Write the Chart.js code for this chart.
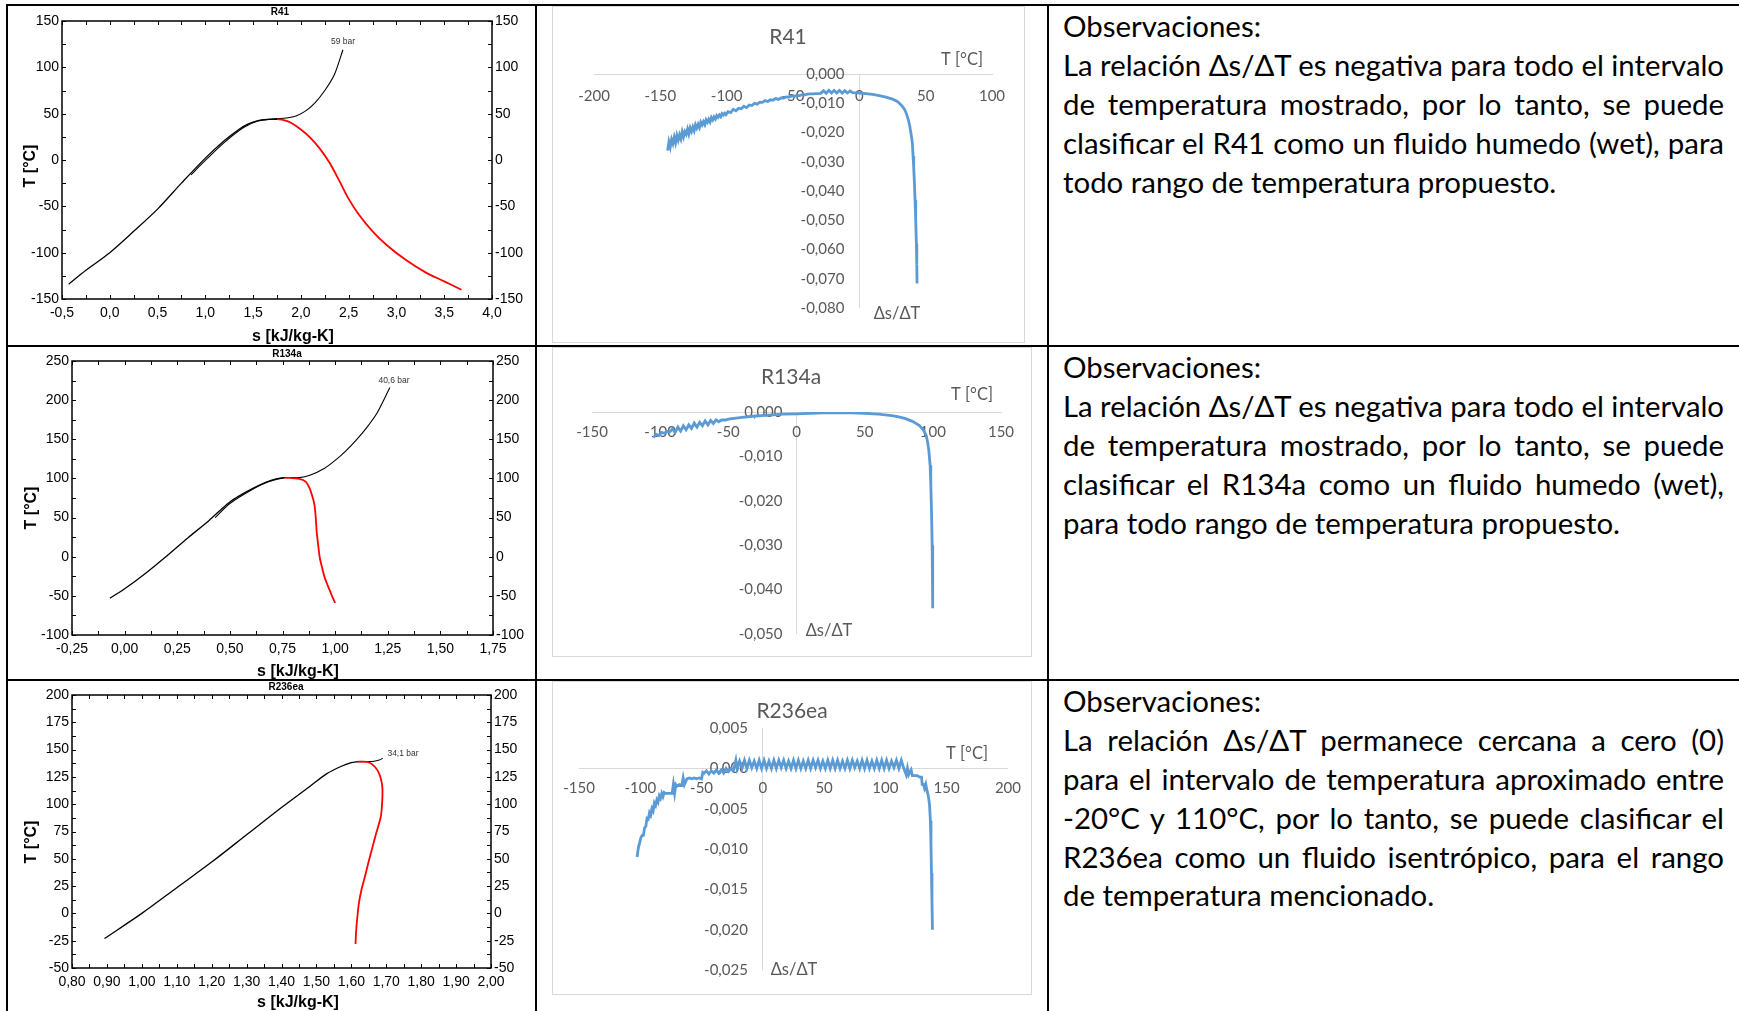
<!DOCTYPE html>
<html>
<head>
<meta charset="utf-8">
<script src="https://cdn.jsdelivr.net/npm/chart.js@4.4.1/dist/chart.umd.min.js"></script>
<style>
  html, body { margin: 0; padding: 0; background: #fff; }
  body { width: 1739px; height: 1011px; position: relative; overflow: hidden; }
  .rule { position: absolute; background: #000; }
  .cv { position: absolute; }
  .xlbox { position: absolute; border: 1px solid #d9d9d9; box-sizing: border-box; pointer-events: none; }
  .obs { position: absolute; left: 1063px; width: 661px; font-family: Lato, Carlito, Calibri, sans-serif; font-size: 28.5px; color: #000; }
  .ln { height: 38.9px; line-height: 38.9px; white-space: nowrap; }
  .ln span { display: inline-block; transform-origin: 0 50%; }
</style>
</head>
<body>

<!-- table lines -->
<div class="rule" style="left:6px;top:4px;width:1733px;height:2px"></div>
<div class="rule" style="left:6px;top:345px;width:1733px;height:2px"></div>
<div class="rule" style="left:6px;top:679px;width:1733px;height:2px"></div>
<div class="rule" style="left:6px;top:4px;width:2px;height:1007px"></div>
<div class="rule" style="left:535px;top:4px;width:2px;height:1007px"></div>
<div class="rule" style="left:1047px;top:4px;width:2px;height:1007px"></div>

<!-- T-s diagrams -->
<canvas id="ts41" class="cv" width="527" height="339" style="left:8px;top:6px;width:527px;height:339px"></canvas>
<canvas id="ts134" class="cv" width="527" height="332" style="left:8px;top:347px;width:527px;height:332px"></canvas>
<canvas id="ts236" class="cv" width="527" height="330" style="left:8px;top:681px;width:527px;height:330px"></canvas>

<!-- ds/dT charts -->
<canvas id="xl41" class="cv" width="473" height="337" style="left:552px;top:6px;width:473px;height:337px"></canvas>
<div class="xlbox" style="left:552px;top:6px;width:473px;height:337px"></div>
<canvas id="xl134" class="cv" width="480" height="310" style="left:552px;top:347px;width:480px;height:310px"></canvas>
<div class="xlbox" style="left:552px;top:347px;width:480px;height:310px"></div>
<canvas id="xl236" class="cv" width="480" height="314" style="left:552px;top:681px;width:480px;height:314px"></canvas>
<div class="xlbox" style="left:552px;top:681px;width:480px;height:314px"></div>

<!-- observaciones -->
<div class="obs" style="top:7px">
  <div class="ln"><span>Observaciones:</span></div>
  <div class="ln j"><span>La relación Δs/ΔT es negativa para todo el intervalo</span></div>
  <div class="ln j"><span>de temperatura mostrado, por lo tanto, se puede</span></div>
  <div class="ln j"><span>clasificar el R41 como un fluido humedo (wet), para</span></div>
  <div class="ln"><span>todo rango de temperatura propuesto.</span></div>
</div>
<div class="obs" style="top:348px">
  <div class="ln"><span>Observaciones:</span></div>
  <div class="ln j"><span>La relación Δs/ΔT es negativa para todo el intervalo</span></div>
  <div class="ln j"><span>de temperatura mostrado, por lo tanto, se puede</span></div>
  <div class="ln j"><span>clasificar el R134a como un fluido humedo (wet),</span></div>
  <div class="ln"><span>para todo rango de temperatura propuesto.</span></div>
</div>
<div class="obs" style="top:682px">
  <div class="ln"><span>Observaciones:</span></div>
  <div class="ln j"><span>La relación Δs/ΔT permanece cercana a cero (0)</span></div>
  <div class="ln j"><span>para el intervalo de temperatura aproximado entre</span></div>
  <div class="ln j"><span>-20°C y 110°C, por lo tanto, se puede clasificar el</span></div>
  <div class="ln j"><span>R236ea como un fluido isentrópico, para el rango</span></div>
  <div class="ln"><span>de temperatura mencionado.</span></div>
</div>

<script>
// ---- T-s data (s in kJ/kg-K, T in °C) ----
const r41LiqS = [-0.43, -0.25, 0.0, 0.25, 0.5, 0.75, 1.0, 1.2, 1.35, 1.45, 1.55, 1.65, 1.75]
const r41LiqT = [-134, -119, -100, -77, -53, -25, 2, 21, 33, 39, 42.5, 43.8, 44]
const r41IsoS = [0.85, 1.0, 1.2, 1.4, 1.55, 1.7, 1.75, 1.85, 1.95, 2.05, 2.15, 2.25, 2.35, 2.44]
const r41IsoT = [-16, -0.5, 19, 35, 42, 44.3, 44.6, 45.3, 47.5, 53, 62, 75, 92, 119]
const r41VapS = [1.75, 1.82, 1.9, 2.0, 2.1, 2.2, 2.3, 2.4, 2.5, 2.6, 2.75, 2.9, 3.1, 3.3, 3.5, 3.68]
const r41VapT = [44, 43, 40, 33, 24, 12, -3, -22, -42, -58, -77, -92, -108, -121, -131, -140]

const r134LiqS = [-0.07, 0.0, 0.1, 0.2, 0.3, 0.4, 0.5, 0.6, 0.67, 0.72, 0.76]
const r134LiqT = [-53, -41, -21, 1, 24, 46, 70, 86, 95, 99.5, 101]
const r134IsoS = [0.43, 0.5, 0.6, 0.68, 0.76, 0.83, 0.88, 0.95, 1.0, 1.05, 1.1, 1.15, 1.2, 1.26]
const r134IsoT = [50, 68, 85, 95.5, 101, 101, 104, 113, 123, 135, 149, 165, 184, 216]
const r134VapS = [0.76, 0.83, 0.86, 0.878, 0.893, 0.902, 0.908, 0.912, 0.92, 0.927, 0.94, 0.951, 0.965, 0.976, 0.988, 1.0]
const r134VapT = [101, 99.5, 96, 88, 76, 66, 50, 33, 14, -1, -16, -27, -37, -44, -52, -59]

const r236LiqS = [0.893, 1.0, 1.1, 1.2, 1.3, 1.4, 1.48, 1.53, 1.57, 1.6, 1.62]
const r236LiqT = [-23, 0, 23.5, 47, 72, 97, 116, 128, 134.5, 138, 139]
const r236IsoS = [1.62, 1.645, 1.665, 1.68, 1.69]
const r236IsoT = [139, 139, 139.3, 140.5, 142]
const r236VapS = [1.62, 1.645, 1.66, 1.675, 1.684, 1.689, 1.688, 1.684, 1.67, 1.66, 1.65, 1.64, 1.63, 1.622, 1.618, 1.614, 1.612]
const r236VapT = [139, 138.8, 136.5, 131, 124, 115, 100, 88, 72, 60, 48, 35, 23, 10, -1, -15, -28]

// tick values
const r41STicks = [-0.5, 0, 0.5, 1, 1.5, 2, 2.5, 3, 3.5, 4]
const r41TTicks = [-150, -100, -50, 0, 50, 100, 150]
const r134STicks = [-0.25, 0, 0.25, 0.5, 0.75, 1, 1.25, 1.5, 1.75]
const r134TTicks = [-100, -50, 0, 50, 100, 150, 200, 250]
const r236STicks = [0.8, 0.9, 1.0, 1.1, 1.2, 1.3, 1.4, 1.5, 1.6, 1.7, 1.8, 1.9, 2.0]
const r236TTicks = [-50, -25, 0, 25, 50, 75, 100, 125, 150, 175, 200]

// ---- ds/dT data (T in °C) ----
const r41Temp = [
  -144.5, -143.5, -142.5, -141.5, -140.5, -139.5, -138.5, -137.5, -136.5, -135.5,
  -134.5, -133.5, -132.5, -131.5, -130.5, -129.5, -128.5, -127.5, -126.5, -125.5,
  -124.5, -123.5, -122.5, -121.5, -120.5, -119.5, -118.5, -117.5, -116.5, -115.5,
  -114.5, -113.5, -112.5, -111.5, -110.5, -109.5, -108.5, -107.5, -106.5, -105.5,
  -104.5, -103.5, -102.5, -101.5, -100.5,
  -99, -97, -95, -93, -91, -89, -87, -85, -83, -81,
  -79, -77, -75, -73, -71, -69, -67, -65, -63, -61,
  -59, -57, -55, -53, -51, -49, -47, -45, -43, -41,
  -39, -37, -35, -33, -31, -29, -27, -25, -23, -21, -19, -17, -15, -13, -11, -9, -7,
  -5, 0, 5, 10, 15, 20, 25, 28, 30, 32, 34, 35, 36, 37, 38, 39, 40, 40.5, 41, 41.5, 42, 42.5, 43, 43.3, 43.5
]
const r41Ratio = [
  -0.0262, -0.0232, -0.0250, -0.0224, -0.0238, -0.0216, -0.0235, -0.0210, -0.0226, -0.0208,
  -0.0222, -0.0198, -0.0215, -0.0197, -0.0206, -0.0188, -0.0205, -0.0184, -0.0196, -0.0181,
  -0.0194, -0.0174, -0.0185, -0.0172, -0.0183, -0.0165, -0.0174, -0.0163, -0.0173, -0.0157,
  -0.0165, -0.0155, -0.0164, -0.0149, -0.0157, -0.0147, -0.0154, -0.0142, -0.0148, -0.0140,
  -0.0146, -0.0135, -0.0140, -0.0134, -0.0139,
  -0.0129, -0.0132, -0.0121, -0.0126, -0.0117, -0.0119, -0.0110, -0.0115, -0.0106, -0.0108,
  -0.0100, -0.0103, -0.0096, -0.0097, -0.0091, -0.0094, -0.0088, -0.0089, -0.0084, -0.0087,
  -0.0082, -0.0082, -0.0078, -0.0079, -0.0075, -0.0076, -0.0073, -0.0074, -0.0071, -0.0071,
  -0.0069, -0.0068, -0.0068, -0.0067, -0.0067, -0.0066, -0.0057, -0.0066, -0.0056, -0.0065, -0.0056, -0.0065, -0.0056, -0.0065, -0.0057, -0.0065, -0.0058,
  -0.0064, -0.0065, -0.0067, -0.0070, -0.0074, -0.0079, -0.0086, -0.0092, -0.0099, -0.0108, -0.0120, -0.0130, -0.0143, -0.0158, -0.0178, -0.0205, -0.0237, -0.0280, -0.0320, -0.0370, -0.0430, -0.0500, -0.0580, -0.0650, -0.0716
]

const r134Temp = [
  -105, -103, -101, -99, -97, -95, -93, -91, -89, -87, -85, -83, -81, -79, -77, -75, -73, -71, -69, -67, -65, -63, -61, -59, -57, -55,
  -52, -50, -40, -30, -20, -10, 0, 10, 20, 30, 40, 50, 60, 70, 75, 80, 85, 90, 93, 95, 96, 97, 98, 98.5, 99, 99.5, 99.8, 100
]
const r134Ratio = [
  -0.0058, -0.0050, -0.0053, -0.0046, -0.0048, -0.0044, -0.0045, -0.0038, -0.0046, -0.0034, -0.0043, -0.0031, -0.0040,
  -0.0029, -0.0037, -0.0025, -0.0034, -0.0023, -0.0031, -0.0020, -0.0029, -0.0019, -0.0026, -0.0018, -0.0022, -0.0018,
  -0.0018, -0.0016, -0.0012, -0.0009, -0.0007, -0.0005, -0.0004, -0.0003, -0.0002, -0.0002, -0.0002, -0.0003, -0.0005, -0.0008,
  -0.0011, -0.0015, -0.0021, -0.0030, -0.0040, -0.0052, -0.0065, -0.0085, -0.0120, -0.0160, -0.0220, -0.0300, -0.0370, -0.0442
]

const r236Temp = [
  -102.6, -101.5, -100.5, -99.5, -98.5, -97.5, -96.5, -95.5, -94.5, -93.5, -92.5, -91.5,
  -90.5, -89.5, -88.5, -87.5, -86.5, -85.5, -84.5, -83.5, -82.5, -81.5, -80.5, -79.5,
  -78, -76, -74, -73, -72, -71, -70, -68, -66, -65, -64, -62, -60, -58, -56, -54, -52,
  -50, -49, -48, -46, -44, -42, -40, -38, -36, -34, -32, -30, -28, -26, -24, -22, -21,
  -19, -17, -15, -13, -11, -9, -7, -5, -3, -1, 1, 3, 5, 7, 9, 11, 13, 15, 17, 19,
  21, 23, 25, 27, 29, 31, 33, 35, 37, 39, 41, 43, 45, 47, 49, 51, 53, 55, 57, 59,
  61, 63, 65, 67, 69, 71, 73, 75, 77, 79, 81, 83, 85, 87, 89, 91, 93, 95, 97, 99,
  101, 103, 105, 107, 109, 111, 113,
  115, 117, 118, 119, 121, 122, 124, 126, 128, 129.5, 130, 131, 132, 133, 134, 135, 136, 136.7, 137.2, 137.6, 138, 138.4
]
const r236Ratio = [
  -0.0110, -0.0098, -0.0092, -0.0086, -0.0083, -0.0083, -0.0074, -0.0072, -0.0062, -0.0063, -0.0055, -0.0058,
  -0.0050, -0.0053, -0.0043, -0.0046, -0.0039, -0.0042, -0.0034, -0.0037, -0.0031, -0.0035, -0.0030, -0.0031,
  -0.0031, -0.0031, -0.0031, -0.0020, -0.0031, -0.0020, -0.0022, -0.0020, -0.0021, -0.0012, -0.0020, -0.0013, -0.0012, -0.0013, -0.0012, -0.0013, -0.0012,
  -0.0013, -0.0005, -0.0006, -0.0003, -0.0007, -0.0003, -0.0006, -0.0002, -0.0006, -0.0002, -0.0006, 0.0000, -0.0004, 0.0000, -0.0003, 0.0010, 0.0000,
  0.0009, 0, 0.0010, 0, 0.0010, 0.0001, 0.0009, 0, 0.0010, 0, 0.0010, 0, 0.0009, 0, 0.0010, 0, 0.0010, 0.0001, 0.0010, 0,
  0.0009, 0, 0.0010, 0, 0.0010, 0, 0.0009, 0, 0.0010, 0, 0.0010, 0.0001, 0.0010, 0, 0.0009, 0, 0.0010, 0, 0.0010, 0,
  0.0010, 0, 0.0009, 0, 0.0010, 0, 0.0010, 0.0001, 0.0009, 0, 0.0010, 0, 0.0010, 0, 0.0009, 0, 0.0010, 0, 0.0010, 0,
  0.0010, 0, 0.0009, 0.0001, 0.0010, 0, 0.0010,
  0.0000, -0.0008, 0.0000, -0.0008, -0.0002, -0.0009, -0.0009, -0.0009, -0.0011, -0.0011, -0.0020, -0.0020, -0.0025, -0.0020, -0.0028, -0.0034, -0.0045, -0.0065, -0.0095, -0.0130, -0.0165, -0.0200
]

const r41XTicks = [-200, -150, -100, -50, 0, 50, 100]
const r41YTicks = [0, -0.01, -0.02, -0.03, -0.04, -0.05, -0.06, -0.07, -0.08]
const r134XTicks = [-150, -100, -50, 0, 50, 100, 150]
const r134YTicks = [0, -0.01, -0.02, -0.03, -0.04, -0.05]
const r236XTicks = [-150, -100, -50, 0, 50, 100, 150, 200]
const r236YTicks = [0.005, 0, -0.005, -0.01, -0.015, -0.02, -0.025]

// ---- common ----
Chart.defaults.animation = false
Chart.defaults.responsive = false
Chart.defaults.devicePixelRatio = 1
Chart.defaults.plugins.legend.display = false
Chart.defaults.plugins.tooltip.enabled = false

const EES = "'Liberation Sans', Arial, sans-serif"
const XL = "Lato, Carlito, Calibri, sans-serif"
const XLGRAY = '#595959'

function pts(xs, ys) {
  return xs.map((v, i) => ({ x: v, y: ys[i] }))
}

// free text (titles, axis names, isobar label) drawn on the canvas
const notesPlugin = {
  id: 'notes',
  afterDraw(chart, args, opts) {
    const ctx = chart.ctx
    ;(opts.items || []).forEach(n => {
      ctx.save()
      ctx.font = n.font
      ctx.fillStyle = n.color || '#000'
      ctx.textAlign = 'center'
      ctx.textBaseline = 'middle'
      ctx.translate(n.x, n.y)
      if (n.rot) ctx.rotate(n.rot)
      ctx.fillText(n.text, 0, 0)
      ctx.restore()
    })
  }
}

// EES style box with inward ticks on all four sides
const framePlugin = {
  id: 'frame',
  afterDatasetsDraw(chart, args, opts) {
    const { ctx, chartArea: a, scales } = chart
    const x = scales.x, y = scales.y
    ctx.save()
    ctx.strokeStyle = '#000'
    ctx.lineWidth = 1
    ctx.beginPath()
    for (let v = x.min; v <= x.max + 1e-9; v += opts.xMinor) {
      const p = Math.round(x.getPixelForValue(v)) + 0.5
      ctx.moveTo(p, a.bottom); ctx.lineTo(p, a.bottom - 4)
      ctx.moveTo(p, a.top); ctx.lineTo(p, a.top + 4)
    }
    for (let v = y.min; v <= y.max + 1e-9; v += opts.yMinor) {
      const p = Math.round(y.getPixelForValue(v)) + 0.5
      ctx.moveTo(a.left, p); ctx.lineTo(a.left + 4, p)
      ctx.moveTo(a.right, p); ctx.lineTo(a.right - 4, p)
    }
    ctx.stroke()
    ctx.lineWidth = 1.5
    ctx.strokeRect(a.left, a.top, a.right - a.left, a.bottom - a.top)
    ctx.restore()
  }
}

function tsChart(id, o) {
  const tickFont = { family: EES, size: 14 }
  const sFmt = v => v.toFixed(o.sDec).replace('.', ',')
  const tAxis = (pos, w) => ({
    position: pos,
    min: o.tTicks[0], max: o.tTicks[o.tTicks.length - 1],
    afterBuildTicks: s => { s.ticks = o.tTicks.map(v => ({ value: v })) },
    afterFit: s => { s.width = w },
    grid: { display: false, drawTicks: false },
    border: { display: false },
    ticks: { font: tickFont, color: '#000', padding: 3, autoSkip: false, callback: v => String(v) }
  })
  return new Chart(document.getElementById(id), {
    type: 'scatter',
    data: {
      datasets: [
        { data: pts(o.vapS, o.vapT), showLine: true, borderColor: '#ff0000', borderWidth: 1.8, pointRadius: 0, tension: 0.3, order: 0 },
        { data: pts(o.liqS, o.liqT), showLine: true, borderColor: '#000', borderWidth: 1.3, pointRadius: 0, tension: 0.3, order: 1 },
        { data: pts(o.isoS, o.isoT), showLine: true, borderColor: '#000', borderWidth: 1.1, pointRadius: 0, tension: 0.3, order: 2 }
      ]
    },
    options: {
      layout: { padding: { top: o.top, left: 0, right: 0, bottom: 0 } },
      scales: {
        x: {
          type: 'linear',
          min: o.sTicks[0], max: o.sTicks[o.sTicks.length - 1],
          afterBuildTicks: s => { s.ticks = o.sTicks.map(v => ({ value: v })) },
          afterFit: s => { s.height = o.xH },
          grid: { display: false, drawTicks: false },
          border: { display: false },
          ticks: { font: tickFont, color: '#000', padding: 6, autoSkip: false, maxRotation: 0, callback: sFmt }
        },
        y: tAxis('left', o.yW),
        yR: tAxis('right', o.yRW)
      },
      plugins: {
        frame: { xMinor: o.xMinor, yMinor: o.yMinor },
        notes: {
          items: [
            { text: o.name, x: o.nameAt[0], y: o.nameAt[1], font: 'bold 10px ' + EES },
            { text: o.bar, x: o.barAt[0], y: o.barAt[1], font: '8.5px ' + EES, color: '#333' },
            { text: 'T [°C]', x: o.tAt[0], y: o.tAt[1], font: 'bold 16px ' + EES, rot: -Math.PI / 2 },
            { text: 's [kJ/kg-K]', x: o.sAt[0], y: o.sAt[1], font: 'bold 16px ' + EES }
          ]
        }
      }
    },
    plugins: [framePlugin, notesPlugin]
  })
}

function xlChart(id, o) {
  const xMin = o.xTicks[0], xMax = o.xTicks[o.xTicks.length - 1]
  const yMax = o.yTicks[0], yMin = o.yTicks[o.yTicks.length - 1]
  const areaW = o.w - o.pad[0] - o.pad[1]
  // y labels sit a few px left of the vertical axis line
  const labelAt = -o.gap * (xMax - xMin) / areaW
  const tickFont = { family: XL, size: 15 }
  return new Chart(document.getElementById(id), {
    type: 'scatter',
    data: {
      datasets: [{ data: pts(o.temp, o.ratio), showLine: true, borderColor: '#5b9bd5', borderWidth: 2.8, pointRadius: 0, tension: 0 }]
    },
    options: {
      layout: { padding: { left: o.pad[0], right: o.pad[1], top: o.pad[2], bottom: o.pad[3] } },
      scales: {
        x: {
          type: 'linear', min: xMin, max: xMax, position: { y: 0 },
          afterBuildTicks: s => { s.ticks = o.xTicks.map(v => ({ value: v })) },
          grid: { drawTicks: false, lineWidth: 1, color: c => (c.tick && c.tick.value === 0) ? '#d9d9d9' : 'rgba(0,0,0,0)' },
          border: { display: true, color: '#d9d9d9', width: 1 },
          ticks: { font: tickFont, color: XLGRAY, padding: o.xPad, autoSkip: false, maxRotation: 0, callback: v => String(v) }
        },
        y: {
          type: 'linear', min: yMin, max: yMax, position: { x: labelAt },
          afterBuildTicks: s => { s.ticks = o.yTicks.map(v => ({ value: v })) },
          grid: { display: false, drawTicks: false },
          border: { display: false },
          ticks: { font: tickFont, color: XLGRAY, autoSkip: false, callback: v => v.toFixed(3).replace('.', ',') }
        }
      },
      plugins: {
        notes: {
          items: [
            { text: o.name, x: o.nameAt[0], y: o.nameAt[1], font: '21px ' + XL, color: XLGRAY },
            { text: 'T [°C]', x: o.tAt[0], y: o.tAt[1], font: '16.5px ' + XL, color: XLGRAY },
            { text: 'Δs/ΔT', x: o.dAt[0], y: o.dAt[1], font: '16.5px ' + XL, color: XLGRAY }
          ]
        }
      }
    },
    plugins: [notesPlugin]
  })
}

tsChart('ts41', {
  liqS: r41LiqS, liqT: r41LiqT, isoS: r41IsoS, isoT: r41IsoT, vapS: r41VapS, vapT: r41VapT,
  sTicks: r41STicks, tTicks: r41TTicks, sDec: 1, xMinor: 0.25, yMinor: 25,
  top: 15, xH: 46, yW: 54, yRW: 43,
  name: 'R41', nameAt: [272, 6], bar: '59 bar', barAt: [335, 36], tAt: [23, 160], sAt: [285, 331]
})
tsChart('ts134', {
  liqS: r134LiqS, liqT: r134LiqT, isoS: r134IsoS, isoT: r134IsoT, vapS: r134VapS, vapT: r134VapT,
  sTicks: r134STicks, tTicks: r134TTicks, sDec: 2, xMinor: 0.125, yMinor: 25,
  top: 14, xH: 44, yW: 64, yRW: 42,
  name: 'R134a', nameAt: [279, 7], bar: '40,6 bar', barAt: [386, 34], tAt: [24, 161], sAt: [290, 325]
})
tsChart('ts236', {
  liqS: r236LiqS, liqT: r236LiqT, isoS: r236IsoS, isoT: r236IsoT, vapS: r236VapS, vapT: r236VapT,
  sTicks: r236STicks, tTicks: r236TTicks, sDec: 2, xMinor: 0.05, yMinor: 12.5,
  top: 14, xH: 43, yW: 64, yRW: 44,
  name: 'R236ea', nameAt: [278, 6], bar: '34,1 bar', barAt: [395, 73], tAt: [24, 161], sAt: [290, 322]
})

xlChart('xl41', {
  temp: r41Temp, ratio: r41Ratio, xTicks: r41XTicks, yTicks: r41YTicks,
  w: 473, pad: [42, 33, 68, 35], gap: 15, xPad: 13,
  name: 'R41', nameAt: [236, 31], tAt: [410, 54], dAt: [345, 308]
})
xlChart('xl134', {
  temp: r134Temp, ratio: r134Ratio, xTicks: r134XTicks, yTicks: r134YTicks,
  w: 480, pad: [40, 31, 65, 23], gap: 14, xPad: 11,
  name: 'R134a', nameAt: [239, 30], tAt: [420, 48], dAt: [277, 284]
})
xlChart('xl236', {
  temp: r236Temp, ratio: r236Ratio, xTicks: r236XTicks, yTicks: r236YTicks,
  w: 480, pad: [27, 24, 47, 25], gap: 15, xPad: 11,
  name: 'R236ea', nameAt: [240, 30], tAt: [415, 73], dAt: [242, 289]
})

// justify the observation lines to the column width
function fitLines() {
  const W = 661
  document.querySelectorAll('.obs').forEach(box => {
    const spans = box.querySelectorAll('.ln span')
    const k = 198 / spans[0].getBoundingClientRect().width
    const widths = Array.from(spans).map(sp => sp.getBoundingClientRect().width)
    spans.forEach((sp, i) => {
      let sx = k
      if (sp.parentNode.classList.contains('j')) {
        const gaps = sp.textContent.split(' ').length - 1
        const extra = W / k - widths[i]
        if (extra >= 0) sp.style.wordSpacing = (extra / gaps) + 'px'
        else sx = W / widths[i]
      }
      sp.style.transform = 'scaleX(' + sx + ')'
    })
  })
}
if (document.fonts && document.fonts.ready) document.fonts.ready.then(fitLines)
else fitLines()
</script>
</body>
</html>
